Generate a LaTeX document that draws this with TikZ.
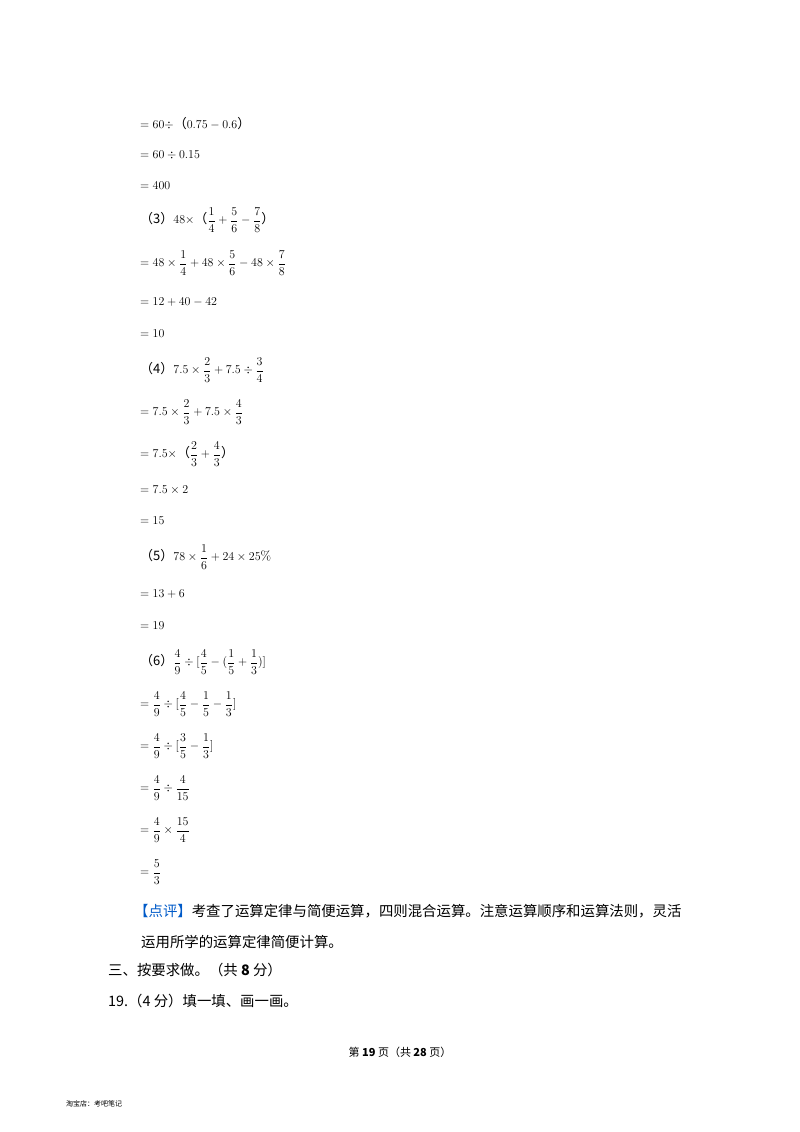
\documentclass[tikz,border=0pt]{standalone}
\usepackage{amsmath}
\usepackage{fontspec}
\newfontfamily\cjk{Noto Sans CJK SC}
\definecolor{pj}{RGB}{0,90,200}
\begin{document}
\begin{tikzpicture}[x=1pt,y=-1pt,
 t/.style={anchor=west,inner sep=0pt,font=\fontsize{13}{15}\selectfont}]
\useasboundingbox (0,0) rectangle (800,1132);
\node[t] (l1) at (140,124) {$=60\div${\cjk（}$0.75-0.6${\cjk）}};
\node[t] (l2) at (140,155) {$=60\div0.15$};
\node[t] (l3) at (140,186) {$=400$};
\node[t] (l4) at (140,220) {{\cjk（3）}$48\times${\cjk（}$\dfrac14+\dfrac56-\dfrac78${\cjk）}};
\node[t] (l5) at (140,263) {$=48\times\dfrac14+48\times\dfrac56-48\times\dfrac78$};
\node[t] (l6) at (140,302) {$=12+40-42$};
\node[t] (l7) at (140,334) {$=10$};
\node[t] (l8) at (140,370) {{\cjk（4）}$7.5\times\dfrac23+7.5\div\dfrac34$};
\node[t] (l9) at (140,412) {$=7.5\times\dfrac23+7.5\times\dfrac43$};
\node[t] (l10) at (140,454) {$=7.5\times${\cjk（}$\dfrac23+\dfrac43${\cjk）}};
\node[t] (l11) at (140,490) {$=7.5\times2$};
\node[t] (l12) at (140,521) {$=15$};
\node[t] (l13) at (140,557) {{\cjk（5）}$78\times\dfrac16+24\times25\%$};
\node[t] (l14) at (140,594) {$=13+6$};
\node[t] (l15) at (140,626) {$=19$};
\node[t] (l16) at (140,662) {{\cjk（6）}$\dfrac49\div[\dfrac45-(\dfrac15+\dfrac13)]$};
\node[t] (l17) at (140,704) {$=\dfrac49\div[\dfrac45-\dfrac15-\dfrac13]$};
\node[t] (l18) at (140,746) {$=\dfrac49\div[\dfrac35-\dfrac13]$};
\node[t] (l19) at (140,788) {$=\dfrac49\div\dfrac4{15}$};
\node[t] (l20) at (140,830) {$=\dfrac49\times\dfrac{15}4$};
\node[t] (l21) at (140,872) {$=\dfrac53$};
\node[t,font=\cjk\fontsize{14.4}{16}\selectfont] (c1) at (134,911) {\textcolor{pj}{【点评】}考查了运算定律与简便运算，四则混合运算。注意运算顺序和运算法则，灵活};
\node[t,font=\cjk\fontsize{14.4}{16}\selectfont] (c2) at (141,942) {运用所学的运算定律简便计算。};
\node[t,font=\cjk\fontsize{14.4}{16}\selectfont] (c3) at (108,970) {三、按要求做。（共 \textbf{8} 分）};
\node[t,font=\cjk\fontsize{14.4}{16}\selectfont] (c4) at (108,1001) {19.（4 分）填一填、画一画。};
\node[inner sep=0pt,font=\cjk\fontsize{11}{13}\selectfont] (f) at (400,1052) {第 \textbf{19} 页（共 \textbf{28} 页）};
\node[t,font=\cjk\fontsize{7}{8}\selectfont] (s) at (66,1104) {淘宝店：考吧笔记};
\end{tikzpicture}
\end{document}
